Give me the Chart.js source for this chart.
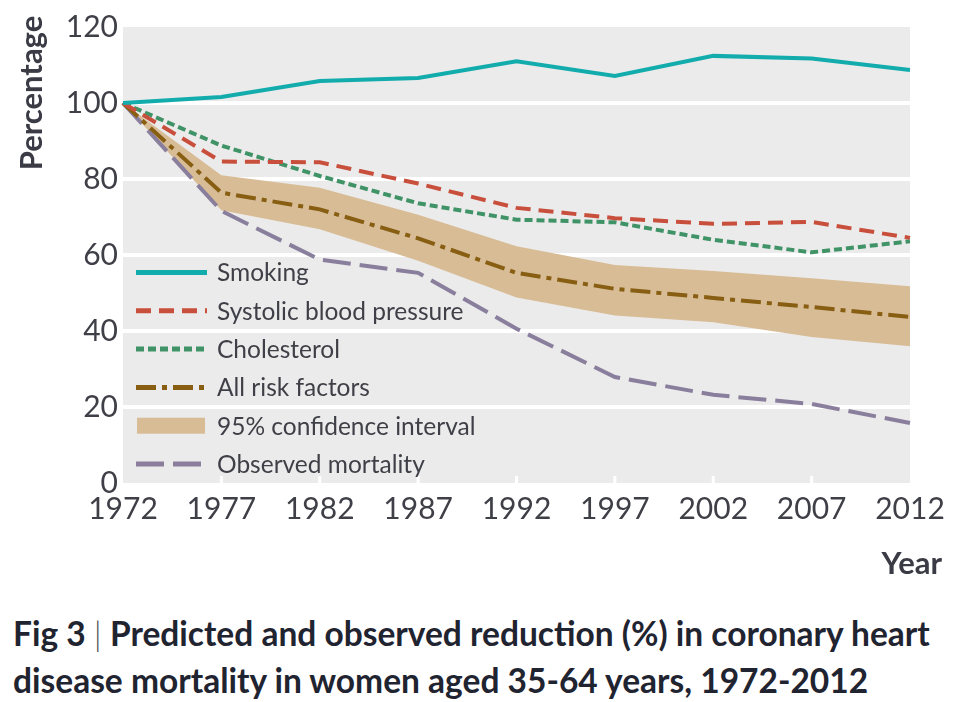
<!DOCTYPE html>
<html>
<head>
<meta charset="utf-8">
<title>Fig 3</title>
<script src="https://cdn.jsdelivr.net/npm/chart.js@4/dist/chart.umd.min.js"></script>
<style>
  body { margin: 0; background: #fff; }
  #wrap { position: relative; width: 954px; height: 702px; overflow: hidden; font-family: Lato, "Open Sans", sans-serif; }
  #chartBox { position: absolute; left: 0; top: 0; width: 954px; height: 590px; }
  #yTitle { position: absolute; left: -70px; top: 76px; width: 200px; height: 34px; line-height: 34px;
            text-align: center; transform: rotate(-90deg); font-weight: bold; font-size: 31px; color: #3a3b44; }
  #xTitle { position: absolute; right: 12px; top: 545px; line-height: 34px; font-weight: bold; font-size: 31px; color: #3a3b44; }
  #caption { position: absolute; left: 13px; top: 610px; font-size: 33.5px; line-height: 47px; font-weight: bold; color: #1f2430; white-space: nowrap; }
  #caption .sep { font-weight: 300; color: #555; }
</style>
</head>
<body>
<div id="wrap">
  <div id="chartBox"><canvas id="fig3"></canvas></div>
  <div id="yTitle">Percentage</div>
  <div id="xTitle">Year</div>
  <div id="caption">Fig 3 <span class="sep">|</span> Predicted and observed reduction (%) in coronary heart<br>disease mortality in women aged 35-64 years, 1972-2012</div>
</div>
<script>
// values (percent of 1972 level)
const years = ['1972', '1977', '1982', '1987', '1992', '1997', '2002', '2007', '2012'];
const smoking = [100, 101.6, 105.8, 106.6, 111, 107.1, 112.4, 111.7, 108.7];
const systolicBP = [100, 84.6, 84.4, 78.8, 72.4, 69.7, 68.2, 68.7, 64.5];
const cholesterol = [100, 88.8, 80.8, 73.6, 69.3, 68.6, 64, 60.7, 63.6];
const allRiskFactors = [100, 76.4, 72, 64.4, 55.3, 51.1, 48.7, 46.3, 43.7];
const ciUpper = [100, 81, 77.7, 70.6, 62.3, 57.4, 55.8, 53.9, 51.8];
const ciLower = [100, 71.8, 66.8, 58.5, 48.8, 44.1, 42.3, 38.4, 36];
const observed = [100, 71.6, 58.8, 55.3, 40.6, 27.9, 23.2, 20.8, 15.8];
const yTicks = [0, 20, 40, 60, 80, 100, 120];

const textColor = '#3f3f47';
const fontFamily = 'Lato, "Open Sans", sans-serif';

// grey panel behind the plot
const plotBackground = {
    id: 'plotBackground',
    beforeDraw(chart) {
        const { ctx, chartArea } = chart;
        ctx.save();
        ctx.fillStyle = '#ebebeb';
        ctx.fillRect(chartArea.left, chartArea.top, chartArea.width, chartArea.height);
        ctx.restore();
    }
};

// small white tick marks inside the bottom of the plot
const innerTicks = {
    id: 'innerTicks',
    beforeDatasetsDraw(chart) {
        const { ctx, chartArea, scales } = chart;
        ctx.save();
        ctx.strokeStyle = '#fff';
        ctx.lineWidth = 3;
        years.forEach(function(y, i) {
            if (i === 0 || i === years.length - 1) return;
            const x = scales.x.getPixelForValue(i);
            ctx.beginPath();
            ctx.moveTo(x, chartArea.bottom);
            ctx.lineTo(x, chartArea.bottom - 7);
            ctx.stroke();
        });
        ctx.restore();
    }
};

// legend drawn inside the plot, lower left
const insideLegend = {
    id: 'insideLegend',
    afterDatasetsDraw(chart) {
        const { ctx } = chart;
        const order = ['Smoking', 'Systolic blood pressure', 'Cholesterol', 'All risk factors', '95% confidence interval', 'Observed mortality'];
        const x0 = 136, x1 = 207, textX = 217;
        let y = 272.5;
        ctx.save();
        ctx.font = '24.5px ' + fontFamily;
        ctx.textBaseline = 'middle';
        order.forEach(function(label) {
            const ds = chart.data.datasets.find(function(d) { return d.label === label; });
            if (!ds) return;
            if (ds.fill) {
                ctx.fillStyle = ds.backgroundColor;
                ctx.fillRect(x0 + 1, y - 8, x1 - x0 - 3, 16);
            } else {
                ctx.strokeStyle = ds.borderColor;
                ctx.lineWidth = 5;
                ctx.setLineDash(ds.borderDash || []);
                ctx.lineCap = 'butt';
                ctx.beginPath();
                ctx.moveTo(x0, y);
                ctx.lineTo(x1, y);
                ctx.stroke();
                ctx.setLineDash([]);
            }
            ctx.fillStyle = textColor;
            ctx.fillText(label, textX, y + 1);
            y += 38.3;
        });
        ctx.restore();
    }
};

const lineBase = {
    borderWidth: 4,
    pointRadius: 0,
    tension: 0,
    fill: false,
    order: 1
};

new Chart(document.getElementById('fig3'), {
    type: 'line',
    data: {
        labels: years,
        datasets: [
            Object.assign({}, lineBase, { label: 'Smoking', data: smoking, borderColor: '#13acad' }),
            Object.assign({}, lineBase, { label: 'Systolic blood pressure', data: systolicBP, borderColor: '#c94f3d', borderDash: [15, 8] }),
            Object.assign({}, lineBase, { label: 'Cholesterol', data: cholesterol, borderColor: '#3f9367', borderDash: [8, 4] }),
            Object.assign({}, lineBase, { label: 'All risk factors', data: allRiskFactors, borderColor: '#875e12', borderDash: [20, 6, 5, 6] }),
            Object.assign({}, lineBase, { label: 'Observed mortality', data: observed, borderColor: '#8a7e9d', borderDash: [28, 9] }),
            {
                label: '95% confidence interval',
                data: ciUpper,
                borderWidth: 0,
                borderColor: 'rgba(0,0,0,0)',
                backgroundColor: '#d8bc96',
                pointRadius: 0,
                tension: 0,
                fill: '+1',
                order: 10
            },
            {
                label: 'ci-lower',
                data: ciLower,
                borderWidth: 0,
                borderColor: 'rgba(0,0,0,0)',
                pointRadius: 0,
                tension: 0,
                fill: false,
                order: 10
            }
        ]
    },
    options: {
        responsive: true,
        maintainAspectRatio: false,
        animation: false,
        layout: {
            padding: { top: 27, right: 44, left: 0, bottom: 0 }
        },
        plugins: {
            legend: { display: false },
            tooltip: { enabled: false }
        },
        scales: {
            x: {
                type: 'category',
                offset: false,
                grid: { display: false, drawTicks: false },
                border: { display: false },
                ticks: {
                    color: textColor,
                    padding: 8,
                    maxRotation: 0,
                    autoSkip: false,
                    font: { family: fontFamily, size: 30 }
                },
                afterFit: function(scale) { scale.height = 107; }
            },
            y: {
                min: 0,
                max: 120,
                afterBuildTicks: function(scale) {
                    scale.ticks = yTicks.map(function(v) { return { value: v }; });
                },
                grid: {
                    drawTicks: false,
                    lineWidth: 4,
                    color: function(c) {
                        const v = c.tick ? c.tick.value : null;
                        return (v === 0 || v === 120) ? 'rgba(0,0,0,0)' : '#ffffff';
                    }
                },
                border: { display: false },
                ticks: {
                    color: textColor,
                    padding: 5,
                    font: { family: fontFamily, size: 30 }
                },
                afterFit: function(scale) { scale.width = 123; }
            }
        }
    },
    plugins: [plotBackground, innerTicks, insideLegend]
});
</script>
</body>
</html>
